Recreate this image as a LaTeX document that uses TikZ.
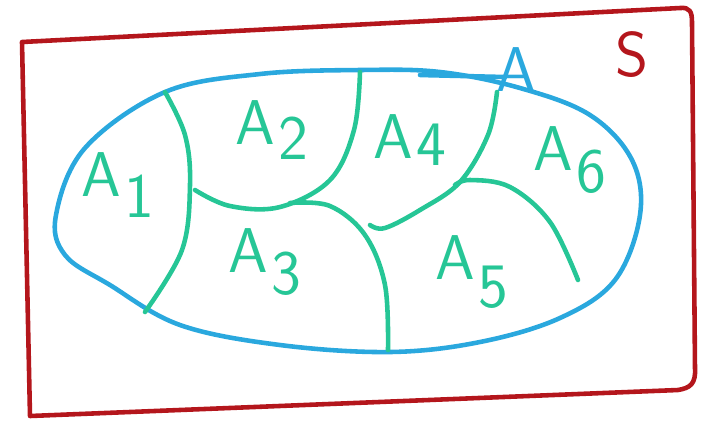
\documentclass[tikz,border=0pt]{standalone}
\definecolor{penred}{RGB}{180,22,28}
\definecolor{penblue}{RGB}{42,168,222}
\definecolor{pengreen}{RGB}{38,198,150}
\begin{document}
\begin{tikzpicture}[x = 0.01cm, y = -0.01cm, line width = 1.3pt, line cap = round, line join = round,
    every node/.style = {font = \sffamily\fontsize{18}{20}\selectfont, inner sep = 0pt},
    part/.style = {pengreen, text = pengreen},
    edge/.style = {draw = pengreen, smooth, tension = 0.6}]
        \useasboundingbox (0,0) rectangle (717,420);
        \draw[penred] (22,42) -- (680,8) .. controls (690,7) and (692,12) .. (692,22) -- (695,368) .. controls (696,384) and (690,388) .. (678,390) -- (30,416) -- cycle;
        \draw[penblue] plot[smooth cycle, tension = 0.6] coordinates {(56,215) (85,148) (165,92) (260,74) (360,70) (440,72) (520,88) (590,115) (632,160) (640,215) (615,280) (560,318) (480,342) (390,352) (280,345) (180,325) (110,285) (65,255)};
        \draw[penblue] (420,75) -- (505,77);
        \node[penblue] (setA) at (516,70) {A};
        \node[penred] (setS) at (632,55) {S};
        \draw[edge] plot coordinates {(165,92) (185,135) (190,185) (182,250) (145,312)};
        \draw[edge] plot coordinates {(360,72) (354,130) (330,180) (280,207) (230,206) (195,190)};
        \draw[edge] plot coordinates {(497,92) (488,135) (460,182) (420,210) (385,228) (370,225)};
        \draw[edge] plot coordinates {(290,203) (330,206) (365,235) (385,285) (388,350)};
        \draw[edge] plot coordinates {(455,185) (470,180) (510,187) (550,222) (578,280)};
        \node[part] (a1) at (118,185) {A\kern1pt\raisebox{-6pt}{1}};
        \node[part] (a2) at (272,130) {A\kern1pt\raisebox{-4pt}{2}};
        \node[part] (a3) at (265,262) {A\kern1pt\raisebox{-6pt}{3}};
        \node[part] (a4) at (410,140) {A\kern1pt\raisebox{-2pt}{4}};
        \node[part] (a5) at (472,272) {A\kern1pt\raisebox{-8pt}{5}};
        \node[part] (a6) at (570,160) {A\kern1pt\raisebox{-6pt}{6}};
\end{tikzpicture}
\end{document}
